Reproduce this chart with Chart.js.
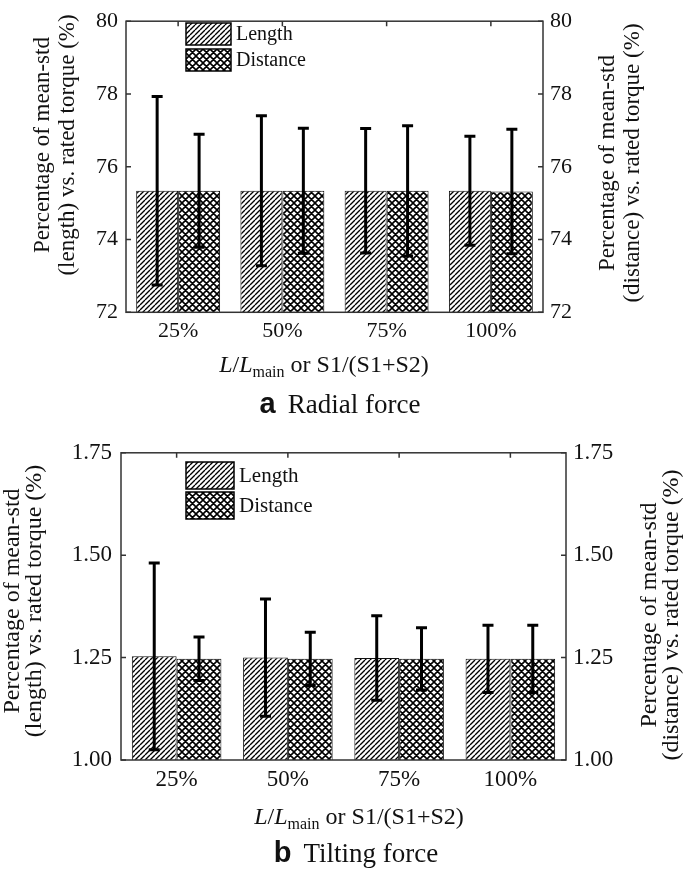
<!DOCTYPE html>
<html>
<head>
<meta charset="utf-8">
<script src="https://cdn.jsdelivr.net/npm/chart.js@4.4.1/dist/chart.umd.min.js"></script>
<style>
  html, body { margin: 0; padding: 0; background: #fff; }
  #wrap { position: relative; width: 685px; height: 871px; }
  .box { position: absolute; left: 0; width: 685px; }
</style>
</head>
<body>
<div id="wrap">
  <div class="box" style="top:0;height:430px"><canvas id="radial"></canvas></div>
  <div class="box" style="top:430px;height:441px"><canvas id="tilting"></canvas></div>
</div>
<script>
const categories = ["25%", "50%", "75%", "100%"];
const seriesNames = ["Length", "Distance"];

// (a) radial force
const radialLength = [75.34, 75.34, 75.34, 75.34];
const radialLengthStd = [2.59, 2.06, 1.71, 1.50];
const radialDistance = [75.34, 75.34, 75.34, 75.32];
const radialDistanceStd = [1.55, 1.72, 1.79, 1.71];
const radialTicks = [72, 74, 76, 78, 80];

// (b) tilting force
const tiltLength = [1.253, 1.250, 1.249, 1.247];
const tiltLengthStd = [0.228, 0.143, 0.103, 0.082];
const tiltDistance = [1.247, 1.247, 1.247, 1.247];
const tiltDistanceStd = [0.053, 0.065, 0.076, 0.082];
const tiltTicks = [1.00, 1.25, 1.50, 1.75];

const SERIF = "'Liberation Serif', 'Times New Roman', serif";
const SANS = "'Liberation Sans', Arial, sans-serif";
const INK = "#111";

function makePattern(ctx, size, lw, cross) {
    const c = document.createElement("canvas");
    c.width = size;
    c.height = size;
    const g = c.getContext("2d");
    g.fillStyle = "#fff";
    g.fillRect(0, 0, size, size);
    g.strokeStyle = "#000";
    g.lineWidth = lw;
    g.beginPath();
    for (let k = -1; k <= 1; k++) {
        g.moveTo(k * size, size);
        g.lineTo(k * size + size, 0);
        if (cross) {
            g.moveTo(k * size, 0);
            g.lineTo(k * size + size, size);
        }
    }
    g.stroke();
    return ctx.createPattern(c, "repeat");
}

function drawRotated(ctx, lines, cx, cy, spacing, font) {
    ctx.save();
    ctx.translate(cx, cy);
    ctx.rotate(-Math.PI / 2);
    ctx.font = font;
    ctx.fillStyle = INK;
    ctx.textAlign = "center";
    ctx.textBaseline = "middle";
    lines.forEach((t, i) => {
        ctx.fillText(t, 0, (i - (lines.length - 1) / 2) * spacing);
    });
    ctx.restore();
}

function drawXTitle(ctx, cx, baseline, size) {
    const parts = [
        { t: "L", f: "italic " + size + "px " + SERIF, dy: 0 },
        { t: "/", f: size + "px " + SERIF, dy: 0 },
        { t: "L", f: "italic " + size + "px " + SERIF, dy: 0 },
        { t: "main", f: Math.round(size * 0.66) + "px " + SERIF, dy: size * 0.22 },
        { t: " or S1/(S1+S2)", f: size + "px " + SERIF, dy: 0 }
    ];
    ctx.save();
    ctx.fillStyle = INK;
    ctx.textBaseline = "alphabetic";
    ctx.textAlign = "left";
    let total = 0;
    parts.forEach(p => { ctx.font = p.f; p.w = ctx.measureText(p.t).width; total += p.w; });
    let x = cx - total / 2;
    parts.forEach(p => { ctx.font = p.f; ctx.fillText(p.t, x, baseline + p.dy); x += p.w; });
    ctx.restore();
}

function drawCaption(ctx, letter, text, cx, baseline, size) {
    ctx.save();
    ctx.fillStyle = INK;
    ctx.textBaseline = "alphabetic";
    ctx.textAlign = "left";
    const fl = "bold " + Math.round(size * 1.08) + "px " + SANS;
    const ft = size + "px " + SERIF;
    ctx.font = fl;
    const wl = ctx.measureText(letter).width;
    ctx.font = ft;
    const wt = ctx.measureText(text).width;
    const gap = size * 0.45;
    let x = cx - (wl + gap + wt) / 2;
    ctx.font = fl;
    ctx.fillText(letter, x, baseline);
    ctx.font = ft;
    ctx.fillText(text, x + wl + gap, baseline);
    ctx.restore();
}

const decoPlugin = {
    id: "deco",
    afterDatasetsDraw(chart, args, opts) {
        const ctx = chart.ctx;
        const y = chart.scales.y;
        ctx.save();
        ctx.strokeStyle = "#000";
        ctx.lineWidth = opts.errWidth;
        chart.data.datasets.forEach((ds, di) => {
            const meta = chart.getDatasetMeta(di);
            meta.data.forEach((bar, i) => {
                const hi = y.getPixelForValue(ds.data[i] + ds.errors[i]);
                const lo = y.getPixelForValue(ds.data[i] - ds.errors[i]);
                const h = opts.capWidth / 2;
                ctx.beginPath();
                ctx.moveTo(bar.x, hi);
                ctx.lineTo(bar.x, lo);
                ctx.moveTo(bar.x - h, hi);
                ctx.lineTo(bar.x + h, hi);
                ctx.moveTo(bar.x - h, lo);
                ctx.lineTo(bar.x + h, lo);
                ctx.stroke();
            });
        });
        ctx.restore();
    },
    afterDraw(chart, args, opts) {
        const ctx = chart.ctx;
        const a = chart.chartArea;
        const x = chart.scales.x;
        const y = chart.scales.y;
        ctx.save();
        // frame
        ctx.strokeStyle = "#333";
        ctx.lineWidth = 1.5;
        ctx.strokeRect(a.left, a.top, a.right - a.left, a.bottom - a.top);
        // inward ticks
        ctx.beginPath();
        y.ticks.forEach(t => {
            const py = y.getPixelForValue(t.value);
            ctx.moveTo(a.left, py);
            ctx.lineTo(a.left + 5, py);
            ctx.moveTo(a.right, py);
            ctx.lineTo(a.right - 5, py);
        });
        x.ticks.forEach((t, i) => {
            const px = x.getPixelForTick(i);
            ctx.moveTo(px, a.top);
            ctx.lineTo(px, a.top + 5);
        });
        ctx.stroke();
        // legend
        const L = opts.legend;
        chart.data.datasets.forEach((ds, di) => {
            const ly = L.y + di * (L.h + L.gap);
            ctx.fillStyle = ds.backgroundColor;
            ctx.fillRect(L.x, ly, L.w, L.h);
            ctx.strokeStyle = "#000";
            ctx.lineWidth = 1.5;
            ctx.strokeRect(L.x, ly, L.w, L.h);
            ctx.fillStyle = INK;
            ctx.font = L.font + "px " + SERIF;
            ctx.textAlign = "left";
            ctx.textBaseline = "middle";
            ctx.fillText(ds.label, L.x + L.w + 5, ly + L.h / 2 + 1);
        });
        ctx.restore();
        // titles
        const T = opts.titles;
        drawRotated(ctx, T.left, T.leftX, T.leftY, T.spacing, T.font + "px " + SERIF);
        drawRotated(ctx, T.right, T.rightX, T.rightY, T.spacing, T.font + "px " + SERIF);
        drawXTitle(ctx, T.xCx, T.xBase, T.xSize);
        drawCaption(ctx, T.capLetter, T.capText, T.capCx, T.capBase, T.capSize);
    }
};

function buildChart(id, cfg) {
    const ctx = document.getElementById(id).getContext("2d");
    const lenPat = makePattern(ctx, 5, 1.35, false);
    const disPat = makePattern(ctx, 7, 1.6, true);
    const tickFont = { family: SERIF, size: cfg.tickSize };
    const yScale = (pos, width, pad) => ({
        position: pos,
        min: cfg.ticks[0],
        max: cfg.ticks[cfg.ticks.length - 1],
        afterBuildTicks: s => { s.ticks = cfg.ticks.map(v => ({ value: v })); },
        afterFit: s => { s.width = width; },
        grid: { display: false, drawTicks: false },
        border: { display: false },
        ticks: { color: INK, font: tickFont, padding: pad, callback: cfg.fmt }
    });
    return new Chart(ctx, {
        type: "bar",
        data: {
            labels: categories,
            datasets: [
                {
                    label: seriesNames[0],
                    data: cfg.length,
                    errors: cfg.lengthStd,
                    backgroundColor: lenPat,
                    borderColor: "#111",
                    borderWidth: 1,
                    yAxisID: "y"
                },
                {
                    label: seriesNames[1],
                    data: cfg.distance,
                    errors: cfg.distanceStd,
                    backgroundColor: disPat,
                    borderColor: "#111",
                    borderWidth: 1,
                    yAxisID: "y"
                }
            ]
        },
        options: {
            responsive: true,
            maintainAspectRatio: false,
            animation: false,
            datasets: { bar: { barPercentage: 1, categoryPercentage: 0.805 } },
            layout: { padding: cfg.padding },
            scales: {
                x: {
                    afterFit: s => { s.height = 33; },
                    grid: { display: false, drawTicks: false },
                    border: { display: false },
                    ticks: { color: INK, font: tickFont, padding: cfg.xPad, maxRotation: 0 }
                },
                y: yScale("left", cfg.leftW, cfg.leftPad),
                y1: yScale("right", cfg.rightW, cfg.rightPad)
            },
            plugins: {
                legend: { display: false },
                tooltip: { enabled: false },
                deco: {
                    errWidth: 3,
                    capWidth: 11,
                    legend: cfg.legend,
                    titles: cfg.titles
                }
            }
        },
        plugins: [decoPlugin]
    });
}

buildChart("radial", {
    length: radialLength,
    lengthStd: radialLengthStd,
    distance: radialDistance,
    distanceStd: radialDistanceStd,
    ticks: radialTicks,
    fmt: v => String(v),
    tickSize: 22,
    padding: { top: 18.3, bottom: 84.7, left: 0, right: 0 },
    leftW: 126, rightW: 142, leftPad: 8, rightPad: 7, xPad: 6,
    legend: { x: 186, y: 23, w: 45, h: 22, gap: 4, font: 20 },
    titles: {
        left: ["Percentage of mean-std", "(length) vs. rated torque (%)"],
        right: ["Percentage of mean-std", "(distance) vs. rated torque (%)"],
        leftX: 55.5, leftY: 145, rightX: 620.5, rightY: 163,
        spacing: 25, font: 23,
        xCx: 324, xBase: 372, xSize: 24,
        capLetter: "a", capText: "Radial force", capCx: 340, capBase: 413, capSize: 27
    }
});

buildChart("tilting", {
    length: tiltLength,
    lengthStd: tiltLengthStd,
    distance: tiltDistance,
    distanceStd: tiltDistanceStd,
    ticks: tiltTicks,
    fmt: v => Number(v).toFixed(2),
    tickSize: 23,
    padding: { top: 18.7, bottom: 78, left: 0, right: 0 },
    leftW: 121, rightW: 119, leftPad: 9, rightPad: 7, xPad: 6,
    legend: { x: 186, y: 32, w: 48, h: 27, gap: 3, font: 21 },
    titles: {
        left: ["Percentage of mean-std", "(length) vs. rated torque (%)"],
        right: ["Percentage of mean-std", "(distance) vs. rated torque (%)"],
        leftX: 24, leftY: 171, rightX: 661, rightY: 185,
        spacing: 22, font: 24,
        xCx: 359, xBase: 394, xSize: 24,
        capLetter: "b", capText: "Tilting force", capCx: 356, capBase: 432, capSize: 27
    }
});
</script>
</body>
</html>
